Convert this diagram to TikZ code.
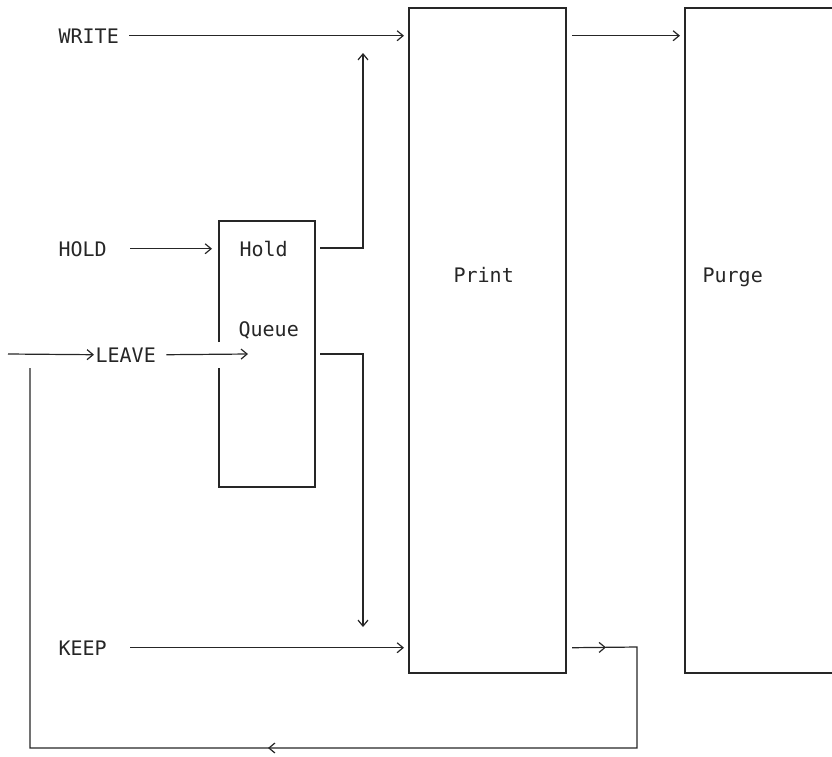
\documentclass[tikz,border=0pt]{standalone}
\usepackage{fontspec}
\setmonofont{DejaVu Sans Mono}
\usetikzlibrary{arrows.meta,decorations.markings}

\begin{document}
\begin{tikzpicture}[x=1pt,y=-1pt,line width=1.2pt,color=black!85,
	box/.style={draw,inner sep=0pt,outer sep=0pt},
	lbl/.style={anchor=base west,inner sep=0pt,font=\ttfamily\fontsize{20}{24}\selectfont},
	flow/.style={-{Straight Barb[length=6pt,width=10pt]}},
	loopflow/.style={postaction={decorate},decoration={markings,
		mark=at position 34pt with {\arrow{Straight Barb[length=6pt,width=10pt]}},
		mark=at position 535pt with {\arrow{Straight Barb[length=6pt,width=10pt]}}}}
	]
	\useasboundingbox (0,0) rectangle (832,756);

	% boxes
	\node[box,minimum width=157pt,minimum height=665pt] (print) at (487.5,340.5) {};
	\node[box,minimum width=200pt,minimum height=665pt] (purge) at (785,340.5) {};
	\node[inner sep=0pt,outer sep=0pt,minimum width=96pt,minimum height=266pt] (hold) at (267,354) {};
	\draw ([yshift=12pt]hold.west) -- (hold.north west) -- (hold.north east)
		-- (hold.south east) -- (hold.south west) -- ([yshift=-14pt]hold.west);

	% texts
	\node[lbl] (printtxt) at (453,282) {Print};
	\node[lbl] (purgetxt) at (702,282) {Purge};
	\node[lbl] (holdtxt) at (239,256) {Hold};
	\node[lbl] (queuetxt) at (238,336) {Queue};
	\node[lbl] (write) at (58,43) {WRITE};
	\node[lbl] (holdin) at (58,256) {HOLD};
	\node[lbl] (leave) at (95,362) {LEAVE};
	\node[lbl] (keep) at (58,655) {KEEP};

	\coordinate (in) at (8,354);
	\coordinate (qin) at (248,354);
	\coordinate (holdout) at (320,248);
	\coordinate (uptip) at (363,53);
	\coordinate (queueout) at (320,354);
	\coordinate (downtip) at (363,627);
	\coordinate (loopa) at (637,647);
	\coordinate (loopb) at (637,748);
	\coordinate (loopc) at (30,748);
	\coordinate (loopd) at (30,368);

	% connectors
	\draw[flow,shorten >=5pt] ([xshift=10pt]write.east) -- (write.east -| print.west);
	\draw[flow,shorten >=5pt] ([xshift=6pt]print.east |- write.east) -- (purge.west |- write.east);
	\draw[flow,shorten >=7pt] ([xshift=23pt]holdin.east) -- (holdin.east -| hold.west);
	\draw[flow] (in) -- ([xshift=-1pt]leave.west);
	\draw[flow] ([xshift=10pt]leave.east) -- (qin);
	\draw[flow] (holdout) -| (uptip);
	\draw[flow] (queueout) -| (downtip);
	\draw[flow,shorten >=5pt] ([xshift=23pt]keep.east) -- (keep.east -| print.west);
	\draw[loopflow] ([xshift=6pt]print.east |- keep.east) -- (loopa) -- (loopb) -- (loopc) -- (loopd);
\end{tikzpicture}
\end{document}
